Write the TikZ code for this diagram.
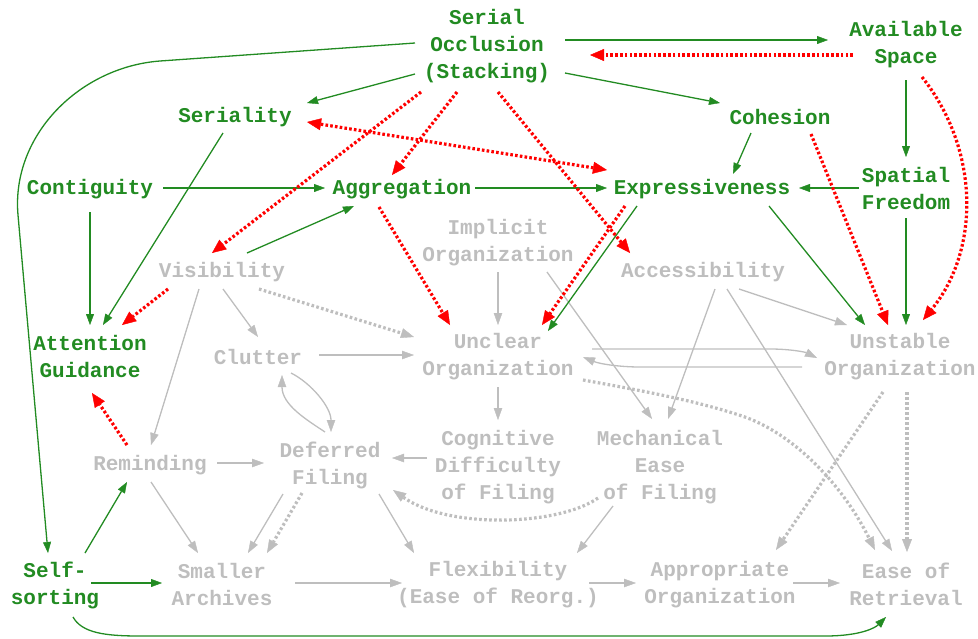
\documentclass[tikz,border=0pt]{standalone}
\usepackage{fontspec}
\setmonofont{Liberation Mono}
\usetikzlibrary{arrows.meta,calc}
\definecolor{grn}{RGB}{34,139,34}
\definecolor{lgray}{RGB}{190,190,190}
\definecolor{rd}{RGB}{255,0,0}
% invisible props that fix the height of first lines and depth of last lines
\newcommand\lineprop{\rule[-2pt]{0pt}{20pt}}
\newcommand\topprop{\rule{0pt}{22.5pt}}

\begin{document}
\begin{tikzpicture}[x=1pt,y=-1pt,
  lbl/.style={font=\ttfamily\bfseries\fontsize{21}{27}\selectfont, align=center, inner sep=0pt,
              execute at begin node=\lineprop, execute at end node=\lineprop},
  key/.style={lbl, text=grn},
  dim/.style={lbl, text=lgray},
  multi/.style={execute at begin node=\topprop},
  gtip/.tip={Triangle[length=11pt,width=8pt,line width=0.4pt]},
  rtip/.tip={Triangle[length=14pt,width=12pt,line width=0.4pt]},
  stip/.tip={Triangle[length=12pt,width=8.5pt,line width=0.4pt]},
  dtip/.tip={Triangle[length=13pt,width=10pt,line width=0.4pt]},
  gedge/.style={draw=grn, line width=1.3pt, -gtip},
  redge/.style={draw=rd, line width=3.2pt, dash pattern=on 2.6pt off 2.2pt, -rtip},
  redgeboth/.style={redge, rtip-rtip},
  sedge/.style={draw=lgray, line width=1.3pt, -stip},
  dedge/.style={draw=lgray, line width=3.2pt, dash pattern=on 2.6pt off 2.4pt, -dtip},
]
\useasboundingbox (0,0) rectangle (978,638);

% ---- concepts ----
\node[key,multi] (so)   at (487,46)  {Serial\\Occlusion\\(Stacking)};
\node[key,multi] (as)   at (906,45)  {Available\\Space};
\node[key]       (ser)  at (235,116) {Seriality};
\node[key]       (coh)  at (780,116) {Cohesion};
\node[key]       (con)  at (90,188)  {Contiguity};
\node[key]       (agg)  at (402,188) {Aggregation};
\node[key]       (exp)  at (702,188) {Expressiveness};
\node[key,multi] (sf)   at (906,189) {Spatial\\Freedom};
\node[dim,multi] (imp)  at (498,243) {Implicit\\Organization};
\node[dim]       (vis)  at (222,271) {Visibility};
\node[dim]       (acc)  at (703,271) {Accessibility};
\node[key,multi] (att)  at (90,357)  {Attention\\Guidance};
\node[dim]       (clu)  at (258,356) {Clutter};
\node[dim,multi] (unc)  at (498,357) {Unclear\\Organization};
\node[dim,multi] (uns)  at (900,357) {Unstable\\Organization};
\node[dim]       (rem)  at (150,464) {Reminding};
\node[dim,multi] (def)  at (330,465) {Deferred\\Filing};
\node[dim,multi] (cog)  at (498,467) {Cognitive\\Difficulty\\of Filing};
\node[dim,multi] (mec)  at (660,467) {Mechanical\\Ease\\of Filing};
\node[key,multi] (self) at (55,585)  {Self-\\sorting};
\node[dim,multi] (sma)  at (222,585) {Smaller\\Archives};
\node[dim,multi] (flex) at (498,585) {Flexibility\\(Ease of Reorg.)};
\node[dim,multi] (app)  at (720,585) {Appropriate\\Organization};
\node[dim,multi] (ease) at (906,585) {Ease of\\Retrieval};

% ---- grey solid influences ----
\draw[sedge] ($(imp)+(0,29)$)    -- ($(unc)+(0,-32)$);
\draw[sedge] ($(imp)+(49,29)$)   -- ($(mec)+(-8,-48)$);
\draw[sedge] ($(vis)+(1,18)$)    -- ($(clu)+(0,-19)$);
\draw[sedge] ($(vis)+(-23,18)$)  -- ($(rem)+(1,-19)$);
\draw[sedge] ($(clu)+(61,-1)$)   -- ($(unc)+(-84,-2)$);
\draw[sedge] ($(def)+(-5,-33)$) .. controls (307,420) and (282,405) .. ($(clu)+(24,19)$);
\draw[sedge] ($(clu)+(33,17)$) .. controls (311,383) and (331,407) .. ($(def)+(1,-33)$);
\draw[sedge] ($(unc)+(94,-8)$) -- (770,349) .. controls (790,349) and (805,352) .. ($(uns)+(-83,1)$);
\draw[sedge] ($(uns)+(-98,10)$) -- (640,367) .. controls (620,367) and (600,364) .. ($(unc)+(85,0)$);
\draw[sedge] ($(unc)+(0,30)$)    -- ($(cog)+(0,-47)$);
\draw[sedge] ($(acc)+(36,18)$)   -- ($(uns)+(-53,-32)$);
\draw[sedge] ($(acc)+(12,18)$)   -- ($(mec)+(8,-48)$);
\draw[sedge] ($(acc)+(24,18)$)   -- ($(ease)+(-14,-34)$);
\draw[sedge] ($(cog)+(-71,-9)$)  -- ($(def)+(62,-7)$);
\draw[sedge] ($(rem)+(67,-1)$)   -- ($(def)+(-66,-2)$);
\draw[sedge] ($(rem)+(1,18)$)    -- ($(sma)+(-24,-32)$);
\draw[sedge] ($(def)+(-47,29)$)  -- ($(sma)+(26,-32)$);
\draw[sedge] ($(def)+(49,29)$)   -- ($(flex)+(-84,-32)$);
\draw[sedge] ($(mec)+(-47,39)$)  -- ($(flex)+(79,-32)$);
\draw[sedge] ($(sma)+(73,-2)$)   -- ($(flex)+(-96,-2)$);
\draw[sedge] ($(flex)+(91,-2)$)  -- ($(app)+(-84,-2)$);
\draw[sedge] ($(app)+(73,-2)$)   -- ($(ease)+(-66,-2)$);

% ---- grey dotted influences ----
\draw[dedge] ($(vis)+(37,18)$)   -- ($(unc)+(-84,-20)$);
\draw[dedge] ($(def)+(-28,28)$)  -- ($(sma)+(45,-32)$);
\draw[dedge] ($(mec)+(-62,31)$) .. controls (560,525) and (450,530) .. ($(def)+(63,25)$);
\draw[dedge] ($(unc)+(85,23)$) .. controls (650,392) and (700,402) .. (742,416)
                               .. controls (790,432) and (840,480) .. ($(ease)+(-31,-35)$);
\draw[dedge] ($(uns)+(-17,35)$)  -- ($(app)+(56,-35)$);
\draw[dedge] ($(uns)+(7,35)$)    -- ($(ease)+(1,-33)$);

% ---- green positive influences ----
\draw[gedge] ($(so)+(78,-6)$)    -- ($(as)+(-78,-5)$);
\draw[gedge] ($(so)+(-72,28)$)   -- ($(ser)+(72,-13)$);
\draw[gedge] ($(so)+(78,27)$)    -- ($(coh)+(-60,-13)$);
\draw[gedge] ($(so)+(-72,-3)$) -- (160,61) .. controls (80,67) and (11,135) .. (18,215) -- ($(self)+(-7,-32)$);
\draw[gedge] ($(ser)+(-12,17)$)  -- ($(att)+(13,-32)$);
\draw[gedge] ($(con)+(73,0)$)    -- ($(agg)+(-77,0)$);
\draw[gedge] ($(con)+(0,24)$)    -- ($(att)+(0,-32)$);
\draw[gedge] ($(agg)+(73,0)$)    -- ($(exp)+(-95,0)$);
\draw[gedge] ($(vis)+(25,-18)$)  -- ($(agg)+(-48,18)$);
\draw[gedge] ($(coh)+(-29,17)$)  -- ($(exp)+(31,-14)$);
\draw[gedge] ($(sf)+(-47,-1)$)   -- ($(exp)+(97,0)$);
\draw[gedge] ($(as)+(0,35)$)     -- ($(sf)+(0,-32)$);
\draw[gedge] ($(sf)+(0,29)$)     -- ($(uns)+(6,-32)$);
\draw[gedge] ($(exp)+(67,18)$)   -- ($(uns)+(-35,-32)$);
\draw[gedge] ($(exp)+(-65,18)$)  -- ($(unc)+(50,-26)$);
\draw[gedge] ($(self)+(30,-32)$) -- ($(rem)+(-23,18)$);
\draw[gedge] ($(self)+(36,-2)$)  -- ($(sma)+(-60,-2)$);
\draw[gedge] ($(self)+(18,32)$) .. controls (82,633) and (105,636) .. (140,636) -- (825,636) .. controls (860,636) and (875,628) .. ($(ease)+(-20,32)$);

% ---- red negative influences ----
\draw[redge] ($(as)+(-53,10)$)   -- ($(so)+(103,9)$);
\draw[redge] ($(as)+(16,32)$) .. controls (980,150) and (980,250) .. ($(uns)+(23,-37)$);
\draw[redge] ($(so)+(-66,46)$)   -- ($(vis)+(-10,-18)$);
\draw[redge] ($(so)+(-30,46)$)   -- ($(agg)+(-10,-13)$);
\draw[redge] ($(so)+(11,46)$)    -- ($(acc)+(-73,-18)$);
\draw[redgeboth] ($(ser)+(72,6)$) -- ($(exp)+(-95,-18)$);
\draw[redge] ($(coh)+(31,18)$)   -- ($(uns)+(-12,-32)$);
\draw[redge] ($(agg)+(-23,19)$)  -- ($(unc)+(-48,-32)$);
\draw[redge] ($(exp)+(-77,18)$)  -- ($(unc)+(44,-32)$);
\draw[redge] ($(vis)+(-54,18)$)  -- ($(att)+(32,-32)$);
\draw[redge] ($(rem)+(-23,-19)$) -- ($(att)+(2,36)$);
\end{tikzpicture}
\end{document}
